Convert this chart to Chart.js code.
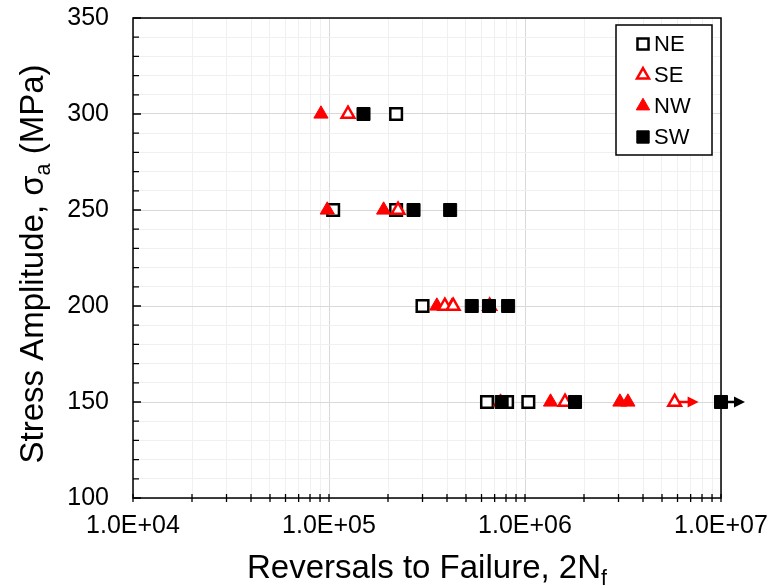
<!DOCTYPE html>
<html>
<head>
<meta charset="utf-8">
<script src="https://cdn.jsdelivr.net/npm/chart.js@4.4.1/dist/chart.umd.min.js"></script>
<style>
  html, body { margin: 0; padding: 0; background: #fff; }
  #wrap { width: 771px; height: 588px; }
</style>
</head>
<body>
<div id="wrap"><canvas id="chart"></canvas></div>
<script>
// Data (x = reversals to failure, y = stress amplitude)
const neX = [2.2e5, 1.05e5, 2.2e5, 3.0e5, 6.4e5, 8.1e5, 1.04e6];
const neY = [300, 250, 250, 200, 150, 150, 150];
const neRunout = [0, 0, 0, 0, 0, 0, 0];

const seX = [1.25e5, 2.25e5, 3.9e5, 4.3e5, 6.6e5, 1.6e6, 5.8e6];
const seY = [300, 250, 200, 200, 200, 150, 150];
const seRunout = [0, 0, 0, 0, 0, 0, 1];

const nwX = [9.1e4, 9.8e4, 1.9e5, 3.55e5, 4.25e5, 7.5e5, 1.35e6, 3.05e6, 3.35e6];
const nwY = [300, 250, 250, 200, 200, 150, 150, 150, 150];
const nwRunout = [0, 0, 0, 0, 0, 0, 0, 0, 0];

const swX = [1.5e5, 2.7e5, 4.15e5, 5.35e5, 6.55e5, 8.2e5, 7.6e5, 1.8e6, 1.0e7];
const swY = [300, 250, 250, 200, 200, 200, 150, 150, 150];
const swRunout = [0, 0, 0, 0, 0, 0, 0, 0, 1];

const xMajorTicks = [1e4, 1e5, 1e6, 1e7];
const xMajorLabels = ['1.0E+04', '1.0E+05', '1.0E+06', '1.0E+07'];
const yMajorTicks = [100, 150, 200, 250, 300, 350];

const toPoints = (xs, ys) => xs.map((x, i) => ({ x: x, y: ys[i] }));

// all x ticks: 1..9 in every decade
const xTicks = [];
xMajorTicks.forEach((d, k) => {
  if (k === xMajorTicks.length - 1) { xTicks.push(d); return; }
  for (let m = 1; m <= 9; m++) xTicks.push(m * d);
});

const FONT = "'Liberation Sans', Arial, sans-serif";

// arrows for run-out specimens
const arrowPlugin = {
  id: 'runoutArrows',
  beforeDatasetsDraw(chart) {
    const ctx = chart.ctx;
    chart.data.datasets.forEach((ds, di) => {
      if (!ds.runout) return;
      const meta = chart.getDatasetMeta(di);
      ds.runout.forEach((r, i) => {
        if (!r) return;
        const p = meta.data[i];
        ctx.save();
        ctx.strokeStyle = ds.arrowColor;
        ctx.fillStyle = ds.arrowColor;
        ctx.lineWidth = 2.5;
        ctx.beginPath();
        ctx.moveTo(p.x, p.y);
        ctx.lineTo(p.x + 15, p.y);
        ctx.stroke();
        ctx.beginPath();
        ctx.moveTo(p.x + 24, p.y);
        ctx.lineTo(p.x + 13, p.y - 5.5);
        ctx.lineTo(p.x + 13, p.y + 5.5);
        ctx.closePath();
        ctx.fill();
        ctx.restore();
      });
    });
  }
};

// frame, inside ticks, titles and legend
const framePlugin = {
  id: 'frame',
  afterDatasetsDraw(chart) {
    const ctx = chart.ctx;
    const a = chart.chartArea;
    const xs = chart.scales.x, ys = chart.scales.y;
    ctx.save();
    ctx.strokeStyle = '#000';
    ctx.lineWidth = 1.5;
    ctx.strokeRect(a.left, a.top, a.right - a.left, a.bottom - a.top);

    ctx.lineWidth = 1.3;
    ctx.beginPath();
    for (let v = 100; v <= 350; v += 10) {
      const py = ys.getPixelForValue(v);
      const len = v % 50 === 0 ? 8 : 6;
      ctx.moveTo(a.left, py);
      ctx.lineTo(a.left + len, py);
    }
    xTicks.forEach(v => {
      const px = xs.getPixelForValue(v);
      ctx.moveTo(px, a.bottom - 4);
      ctx.lineTo(px, a.bottom + 4);
    });
    ctx.stroke();
    ctx.restore();
  },
  afterDraw(chart) {
    const ctx = chart.ctx;
    const a = chart.chartArea;

    function drawParts(parts, size) {
      let w = 0;
      parts.forEach(p => {
        ctx.font = (p.sub ? size * 0.65 : size) + 'px ' + FONT;
        p.w = ctx.measureText(p.t).width;
        w += p.w;
      });
      let x = -w / 2;
      parts.forEach(p => {
        ctx.font = (p.sub ? size * 0.65 : size) + 'px ' + FONT;
        ctx.fillText(p.t, x, p.sub ? size * 0.22 : 0);
        x += p.w;
      });
    }

    ctx.save();
    ctx.fillStyle = '#000';
    ctx.textBaseline = 'alphabetic';
    ctx.textAlign = 'left';
    ctx.translate((a.left + a.right) / 2, 578);
    drawParts([{ t: 'Reversals to Failure, 2N' }, { t: 'f', sub: true }], 33);
    ctx.restore();

    ctx.save();
    ctx.fillStyle = '#000';
    ctx.textAlign = 'left';
    ctx.translate(43, 264);
    ctx.rotate(-Math.PI / 2);
    drawParts([{ t: 'Stress Amplitude, σ' }, { t: 'a', sub: true }, { t: ' (MPa)' }], 33);
    ctx.restore();

    // legend box
    const lx = 616, ly = 25, lw = 96, lh = 130;
    ctx.save();
    ctx.fillStyle = '#fff';
    ctx.fillRect(lx, ly, lw, lh);
    ctx.strokeStyle = '#000';
    ctx.lineWidth = 1.5;
    ctx.strokeRect(lx, ly, lw, lh);
    const order = ['NE', 'SE', 'NW', 'SW'];
    order.forEach((name, i) => {
      const ds = chart.data.datasets.find(d => d.label === name);
      const cy = ly + 19 + i * 31;
      ctx.fillStyle = ds.pointBackgroundColor;
      ctx.strokeStyle = ds.pointBorderColor;
      ctx.lineWidth = ds.pointBorderWidth;
      Chart.helpers.drawPoint(ctx, {
        pointStyle: ds.pointStyle,
        radius: ds.pointRadius * 0.95,
        rotation: 0,
        borderWidth: ds.pointBorderWidth
      }, lx + 27, cy);
      ctx.fillStyle = '#000';
      ctx.font = '22px ' + FONT;
      ctx.textBaseline = 'middle';
      ctx.fillText(name, lx + 38, cy + 1);
    });
    ctx.restore();
  }
};

const makeSet = (label, xs, ys, runout, style, fill, border, bw, radius, order) => ({
  label: label,
  data: toPoints(xs, ys),
  runout: runout,
  arrowColor: border,
  pointStyle: style,
  pointRadius: radius,
  pointHoverRadius: radius,
  pointBackgroundColor: fill,
  pointBorderColor: border,
  pointBorderWidth: bw,
  showLine: false,
  clip: false,
  order: order
});

new Chart(document.getElementById('chart'), {
  type: 'scatter',
  data: {
    datasets: [
      makeSet('NE', neX, neY, neRunout, 'rect', '#ffffff', '#000000', 2.5, 8.2, 4),
      makeSet('SE', seX, seY, seRunout, 'triangle', '#ffffff', '#ff0000', 2.5, 7.3, 2),
      makeSet('NW', nwX, nwY, nwRunout, 'triangle', '#ff0000', '#ff0000', 1, 8.2, 3),
      makeSet('SW', swX, swY, swRunout, 'rect', '#000000', '#000000', 1, 9.2, 1)
    ]
  },
  options: {
    responsive: true,
    maintainAspectRatio: false,
    animation: false,
    layout: { padding: { top: 18, right: 50, left: 0, bottom: 0 } },
    plugins: {
      legend: { display: false },
      tooltip: { enabled: false }
    },
    scales: {
      x: {
        type: 'logarithmic',
        min: 1e4,
        max: 1e7,
        afterBuildTicks: s => { s.ticks = xTicks.map(v => ({ value: v })); },
        afterFit: s => { s.height = 90; s.paddingLeft = 0; s.paddingRight = 0; },
        ticks: {
          autoSkip: false,
          maxRotation: 0,
          padding: 13,
          color: '#000',
          font: { family: FONT, size: 25 },
          callback: v => {
            const k = xMajorTicks.indexOf(v);
            return k >= 0 ? xMajorLabels[k] : '';
          }
        },
        grid: {
          drawTicks: false,
          color: c => xMajorTicks.includes(c.tick.value) ? '#d9d9d9' : '#f0f0f0',
          lineWidth: 1
        },
        border: { display: false }
      },
      y: {
        min: 100,
        max: 350,
        afterFit: s => { s.width = 133; s.paddingTop = 0; s.paddingBottom = 0; },
        ticks: {
          stepSize: 10,
          autoSkip: false,
          padding: 24,
          color: '#000',
          font: { family: FONT, size: 25 },
          callback: v => yMajorTicks.includes(v) ? String(v) : ''
        },
        grid: {
          drawTicks: false,
          color: c => yMajorTicks.includes(c.tick.value) ? '#d9d9d9' : '#f0f0f0',
          lineWidth: 1
        },
        border: { display: false }
      }
    }
  },
  plugins: [arrowPlugin, framePlugin]
});
</script>
</body>
</html>
